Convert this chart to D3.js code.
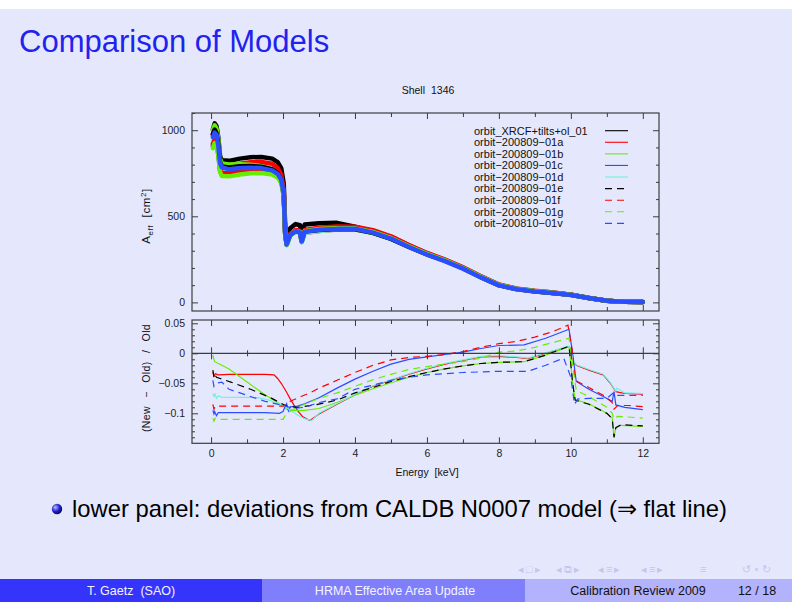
<!DOCTYPE html>
<html>
<head>
<meta charset="utf-8">
<script src="https://cdn.jsdelivr.net/npm/d3@7"></script>
<style>
body { margin: 0; background: #fff; }
svg text { font-family: "Liberation Sans", Arial, Helvetica, sans-serif; }
</style>
</head>
<body>
<svg id="slide" width="792" height="612"></svg>
<script>
// ---- data ----
var modelNames = ["orbit_XRCF+tilts+ol_01", "orbit\u2212200809\u221201a", "orbit\u2212200809\u221201b",
  "orbit\u2212200809\u221201c", "orbit\u2212200809\u221201d", "orbit\u2212200809\u221201e",
  "orbit\u2212200809\u221201f", "orbit\u2212200809\u221201g", "orbit\u2212200810\u221201v"];
var modelColors = ["#000000", "#ff0000", "#66ee00", "#2a4dff", "#6ff2da", "#000000", "#ff0000", "#66ee00", "#2a4dff"];
var modelDashed = [false, false, false, false, false, true, true, true, true];

// upper panel: effective area [cm^2] vs energy [keV]
var aeffEnergy = [0.05,0.1,0.15,0.2,0.25,0.3,0.5,0.8,1.1,1.4,1.7,1.85,1.95,2.02,2.06,2.1,2.2,2.35,2.47,2.52,2.6,3.0,3.5,4.0,4.5,5.0,5.5,6.0,6.5,7.0,7.5,8.0,8.5,9.0,9.5,10.0,10.5,11.0,11.5,12.0];
var aeffXRCF = [1005,1040,1025,960,850,825,822,835,843,845,835,815,780,690,440,380,430,455,448,395,452,460,462,440,410,372,325,281,244,200,148,100,77,64,55,44,25,9,3,2];
var aeff01a = [974,1000,988,926,821,796,793,806,814,815,805,781,741,652,414,345,398,414,403,350,403,414,423,424,404,371,324,281,244,201,149,101,77,65,55,45,26,10,3,2];
var aeff01b = [1002,1028,1011,944,834,807,801,803,800,791,771,747,712,629,400,334,390,412,405,354,409,418,424,423,403,369,322,279,242,199,147,100,77,64,55,44,25,9,3,2];
var aeff01c = [909,938,918,864,765,743,741,752,759,761,752,734,702,623,400,337,392,415,409,357,414,426,435,435,415,381,332,286,248,203,151,103,79,66,57,45,25,9,3,2];
var aeff01d = [938,965,948,892,789,765,762,774,781,782,769,748,714,630,401,335,389,409,401,349,403,415,424,425,405,371,324,281,244,201,149,101,77,65,55,45,26,10,3,2];
var aeff01e = [977,1004,984,921,814,790,783,791,792,788,773,751,716,631,402,336,392,414,408,356,412,421,426,425,404,369,322,279,242,199,147,100,77,64,55,44,25,9,3,2];
var aeff01f = [920,943,935,876,775,752,750,762,769,771,762,743,711,629,402,337,396,420,415,363,420,433,441,440,419,384,333,287,248,204,152,104,80,67,57,45,25,9,3,2];
var aeff01g = [896,926,910,856,757,734,732,743,750,752,743,725,694,614,394,332,389,414,409,357,414,426,431,430,409,374,326,282,244,200,149,102,78,66,56,44,25,9,3,2];
var aeff01v = [960,986,974,912,808,785,773,780,782,780,767,747,713,630,401,336,391,413,407,355,411,422,427,428,405,371,322,278,240,196,145,99,76,63,54,43,25,9,3,2];

// lower panel: (New - Old) / Old, pairs of [keV, ratio]
var dev01a = [[0.05,-0.031],[0.08,-0.038],[0.12,-0.034],[0.2,-0.036],[0.5,-0.035],[1.0,-0.035],[1.5,-0.035],[1.75,-0.036],[1.85,-0.042],[1.95,-0.05],[2.05,-0.06],[2.1,-0.065],[2.2,-0.076],[2.3,-0.086],[2.4,-0.095],[2.55,-0.106],[2.75,-0.112],[3.0,-0.101],[3.5,-0.085],[4.0,-0.069],[4.5,-0.055],[5.0,-0.045],[5.5,-0.035],[6.0,-0.026],[6.5,-0.018],[7.0,-0.012],[7.5,-0.006],[8.0,-0.005],[8.5,-0.007],[8.8,-0.009],[9.3,0.0],[9.95,0.011],[10.05,-0.012],[10.15,-0.02],[10.5,-0.028],[10.9,-0.036],[11.1,-0.05],[11.25,-0.064],[11.5,-0.067],[12.0,-0.068]];
var dev01b = [[0.05,-0.003],[0.08,-0.01],[0.1,-0.014],[0.3,-0.02],[0.5,-0.026],[1.0,-0.048],[1.5,-0.069],[2.0,-0.088],[2.1,-0.093],[2.3,-0.095],[2.6,-0.095],[3.0,-0.092],[3.5,-0.082],[4.0,-0.07],[4.5,-0.059],[5.0,-0.049],[5.5,-0.04],[6.0,-0.032],[6.5,-0.026],[7.0,-0.021],[7.5,-0.017],[8.0,-0.015],[8.7,-0.014],[9.3,-0.003],[9.95,0.011],[10.05,-0.05],[10.12,-0.077],[10.5,-0.084],[11.0,-0.1],[11.15,-0.108],[11.2,-0.14],[11.25,-0.124],[11.4,-0.12],[12.0,-0.122]];
var dev01c = [[0.05,-0.095],[0.08,-0.101],[0.1,-0.097],[0.15,-0.104],[0.2,-0.099],[0.5,-0.099],[1.0,-0.099],[1.5,-0.099],[1.9,-0.1],[2.0,-0.097],[2.05,-0.09],[2.1,-0.084],[2.15,-0.096],[2.2,-0.089],[2.4,-0.088],[2.6,-0.084],[3.0,-0.074],[3.5,-0.058],[4.0,-0.043],[4.5,-0.03],[5.0,-0.018],[5.5,-0.01],[6.0,-0.006],[6.5,-0.002],[7.0,0.002],[7.5,0.008],[8.0,0.013],[8.7,0.014],[9.3,0.025],[9.95,0.04],[10.05,0.0],[10.15,-0.047],[10.5,-0.06],[10.9,-0.072],[11.15,-0.08],[11.2,-0.064],[11.25,-0.086],[11.5,-0.09],[12.0,-0.094]];
var dev01d = [[0.05,-0.067],[0.08,-0.072],[0.11,-0.068],[0.15,-0.075],[0.2,-0.071],[0.3,-0.073],[1.0,-0.0735],[1.3,-0.074],[1.6,-0.078],[1.9,-0.084],[2.05,-0.088],[2.2,-0.095],[2.4,-0.103],[2.6,-0.109],[2.8,-0.112],[3.0,-0.1],[3.5,-0.084],[4.0,-0.068],[4.5,-0.054],[5.0,-0.044],[5.5,-0.034],[6.0,-0.025],[6.5,-0.017],[7.0,-0.011],[7.5,-0.005],[8.0,-0.004],[8.5,-0.006],[8.8,-0.008],[9.3,0.001],[9.95,0.012],[10.05,-0.011],[10.15,-0.019],[10.5,-0.027],[10.9,-0.035],[11.1,-0.049],[11.25,-0.063],[11.28,-0.058],[11.5,-0.066],[12.0,-0.067]];
var dev01e = [[0.05,-0.028],[0.08,-0.04],[0.1,-0.035],[0.15,-0.04],[0.3,-0.043],[0.55,-0.048],[1.1,-0.06],[1.65,-0.074],[2.1,-0.088],[2.4,-0.09],[2.9,-0.086],[3.5,-0.078],[4.0,-0.066],[4.5,-0.057],[5.0,-0.047],[5.5,-0.039],[6.0,-0.032],[6.5,-0.026],[7.0,-0.021],[7.5,-0.017],[8.0,-0.015],[8.7,-0.014],[9.3,-0.003],[9.95,0.012],[10.05,-0.05],[10.12,-0.078],[10.5,-0.085],[11.0,-0.1],[11.15,-0.109],[11.2,-0.14],[11.25,-0.124],[11.4,-0.119],[12.0,-0.121]];
var dev01f = [[0.05,-0.085],[0.08,-0.093],[0.12,-0.088],[0.5,-0.088],[1.0,-0.088],[1.5,-0.088],[2.0,-0.088],[2.1,-0.085],[2.2,-0.08],[2.5,-0.072],[2.75,-0.066],[3.0,-0.058],[3.5,-0.045],[4.0,-0.032],[4.5,-0.02],[5.0,-0.011],[5.5,-0.007],[6.0,-0.005],[6.5,-0.002],[7.0,0.003],[7.5,0.01],[8.0,0.016],[8.5,0.02],[9.0,0.027],[9.5,0.036],[9.92,0.047],[10.05,0.0],[10.12,-0.045],[10.5,-0.057],[10.9,-0.07],[11.15,-0.082],[11.2,-0.093],[11.3,-0.087],[11.6,-0.087],[12.0,-0.089]];
var dev01g = [[0.05,-0.108],[0.08,-0.113],[0.12,-0.108],[0.2,-0.11],[1.0,-0.11],[1.5,-0.11],[2.0,-0.11],[2.1,-0.1],[2.3,-0.093],[2.6,-0.085],[3.0,-0.075],[3.5,-0.066],[4.0,-0.055],[4.5,-0.044],[5.0,-0.035],[5.5,-0.027],[6.0,-0.022],[6.5,-0.018],[7.0,-0.014],[7.5,-0.008],[8.0,0.002],[8.5,0.004],[9.0,0.01],[9.5,0.018],[9.95,0.025],[10.05,-0.02],[10.15,-0.062],[10.5,-0.072],[11.0,-0.09],[11.15,-0.1],[11.2,-0.11],[11.3,-0.105],[12.0,-0.108]];
var dev01v = [[0.05,-0.045],[0.08,-0.055],[0.12,-0.05],[0.3,-0.048],[0.5,-0.06],[1.0,-0.07],[1.5,-0.08],[2.0,-0.087],[2.3,-0.092],[2.6,-0.09],[3.0,-0.082],[3.5,-0.076],[4.0,-0.06],[4.5,-0.053],[5.0,-0.045],[5.5,-0.04],[6.0,-0.036],[7.0,-0.032],[8.0,-0.03],[8.8,-0.03],[9.3,-0.02],[9.8,-0.008],[10.0,-0.04],[10.1,-0.085],[10.2,-0.076],[10.5,-0.075],[11.0,-0.075],[11.2,-0.065],[11.3,-0.07],[12.0,-0.07]];

var xTickValues = [0, 2, 4, 6, 8, 10, 12];
var yTopTickValues = [0, 500, 1000];
var yBotTickValues = [-0.1, -0.05, 0, 0.05];
var yBotTickLabels = ["\u22120.1", "\u22120.05", "0", "0.05"];

var aeffSeries = [aeffXRCF, aeff01a, aeff01b, aeff01c, aeff01d, aeff01e, aeff01f, aeff01g, aeff01v];
var devSeries = [null, dev01a, dev01b, dev01c, dev01d, dev01e, dev01f, dev01g, dev01v];

// ---- page ----
var svg = d3.select("#slide");
svg.append("rect").attr("x", 0).attr("y", 9).attr("width", 792).attr("height", 571).attr("fill", "#e5e8fd");

svg.append("text").attr("x", 19).attr("y", 52).attr("font-size", 31).attr("fill", "#2222ee")
  .text("Comparison of Models");

// ---- scales ----
var x = d3.scaleLinear().domain([-0.53, 12.45]).range([192, 659]);
var yTop = d3.scaleLinear().domain([-50, 1100]).range([311, 113]);
var yBot = d3.scaleLinear().domain([-0.15, 0.0555]).range([443.3, 320]);

var frameColor = "#3c3c3c";
var defs = svg.append("defs");
defs.append("clipPath").attr("id", "clipTop").append("rect")
  .attr("x", 192).attr("y", 113).attr("width", 467).attr("height", 198);
defs.append("clipPath").attr("id", "clipBot").append("rect")
  .attr("x", 192).attr("y", 320).attr("width", 467).attr("height", 123.3);

var plot = svg.append("g");

// upper panel curves (thick, as in the dense point plot)
var topLine = d3.line().x(function(d){ return x(d[0]); }).y(function(d){ return yTop(d[1]); });
var gTop = plot.append("g").attr("clip-path", "url(#clipTop)");
aeffSeries.forEach(function(vals, i){
  var pts = aeffEnergy.map(function(e, j){ return [e, vals[j]]; });
  gTop.append("path").attr("d", topLine(pts)).attr("fill", "none")
    .attr("stroke", modelColors[i]).attr("stroke-width", 4.5)
    .attr("stroke-linejoin", "round").attr("stroke-linecap", "round");
});

// lower panel curves
var botLine = d3.line().x(function(d){ return x(d[0]); }).y(function(d){ return yBot(d[1]); });
var gBot = plot.append("g").attr("clip-path", "url(#clipBot)");
devSeries.forEach(function(pts, i){
  if (!pts) return;
  gBot.append("path").attr("d", botLine(pts)).attr("fill", "none")
    .attr("stroke", modelColors[i]).attr("stroke-width", 1.2)
    .attr("stroke-dasharray", modelDashed[i] ? "7,5" : null);
});

// ---- axes ----
function styleAxis(g){
  g.select(".domain").remove();
  g.selectAll("line").attr("stroke", frameColor).attr("stroke-width", 1);
  g.selectAll("text").attr("fill", "#222").attr("font-size", 10.5)
    .attr("font-family", "'Liberation Sans', Arial, sans-serif");
}
function addAxis(axis, tx, ty){
  plot.append("g").attr("transform", "translate(" + tx + "," + ty + ")").call(axis).call(styleAxis);
}
var xMinor = [1, 3, 5, 7, 9, 11];
var noLabel = function(){ return ""; };

// upper panel ticks
addAxis(d3.axisBottom(x).tickValues(xTickValues).tickSize(-6).tickFormat(noLabel), 0, 311);
addAxis(d3.axisBottom(x).tickValues(xMinor).tickSize(-4).tickFormat(noLabel), 0, 311);
addAxis(d3.axisTop(x).tickValues(xTickValues).tickSize(-6).tickFormat(noLabel), 0, 113);
addAxis(d3.axisTop(x).tickValues(xMinor).tickSize(-4).tickFormat(noLabel), 0, 113);
addAxis(d3.axisLeft(yTop).tickValues(yTopTickValues).tickSize(-6).tickPadding(7).tickFormat(d3.format("d")), 192, 0);
addAxis(d3.axisLeft(yTop).tickValues([100,200,300,400,600,700,800,900,1100]).tickSize(-3).tickFormat(noLabel), 192, 0);
addAxis(d3.axisRight(yTop).tickValues(yTopTickValues).tickSize(-6).tickFormat(noLabel), 659, 0);
addAxis(d3.axisRight(yTop).tickValues([100,200,300,400,600,700,800,900]).tickSize(-3).tickFormat(noLabel), 659, 0);

// lower panel ticks
var yBotMinor = d3.range(-14, 6).map(function(k){ return k / 100; })
  .filter(function(v){ return Math.abs(v * 20 - Math.round(v * 20)) > 1e-6; });
addAxis(d3.axisBottom(x).tickValues(xTickValues).tickSize(-6).tickPadding(6)
  .tickFormat(d3.format("d")), 0, 443.3);
addAxis(d3.axisBottom(x).tickValues(xMinor).tickSize(-4).tickFormat(noLabel), 0, 443.3);
addAxis(d3.axisTop(x).tickValues(xTickValues).tickSize(-6).tickFormat(noLabel), 0, 320);
addAxis(d3.axisTop(x).tickValues(xMinor).tickSize(-4).tickFormat(noLabel), 0, 320);
addAxis(d3.axisLeft(yBot).tickValues(yBotTickValues).tickSize(-6).tickPadding(7)
  .tickFormat(function(d, i){ return yBotTickLabels[i]; }), 192, 0);
addAxis(d3.axisLeft(yBot).tickValues(yBotMinor).tickSize(-3).tickFormat(noLabel), 192, 0);
addAxis(d3.axisRight(yBot).tickValues(yBotTickValues).tickSize(-6).tickFormat(noLabel), 659, 0);
addAxis(d3.axisRight(yBot).tickValues(yBotMinor).tickSize(-3).tickFormat(noLabel), 659, 0);

// zero line with ticks on both sides
plot.append("line").attr("x1", 192).attr("x2", 659).attr("y1", yBot(0)).attr("y2", yBot(0))
  .attr("stroke", frameColor).attr("stroke-width", 1.2);
addAxis(d3.axisTop(x).tickValues(xTickValues).tickSize(6).tickFormat(noLabel), 0, yBot(0));
addAxis(d3.axisBottom(x).tickValues(xTickValues).tickSize(6).tickFormat(noLabel), 0, yBot(0));
addAxis(d3.axisTop(x).tickValues(xMinor).tickSize(3).tickFormat(noLabel), 0, yBot(0));
addAxis(d3.axisBottom(x).tickValues(xMinor).tickSize(3).tickFormat(noLabel), 0, yBot(0));

// frames
[[113, 311], [320, 443.3]].forEach(function(b){
  plot.append("rect").attr("x", 192).attr("y", b[0]).attr("width", 467).attr("height", b[1] - b[0])
    .attr("fill", "none").attr("stroke", frameColor).attr("stroke-width", 1.2);
});

// axis titles
plot.append("text").attr("x", 428).attr("y", 94).attr("text-anchor", "middle")
  .attr("font-size", 10.5).attr("word-spacing", 3).attr("fill", "#111").text("Shell 1346");
plot.append("text").attr("x", 427).attr("y", 476).attr("text-anchor", "middle")
  .attr("font-size", 10.5).attr("word-spacing", 3).attr("fill", "#111").text("Energy [keV]");

var yl1 = plot.append("text").attr("transform", "translate(150,216) rotate(-90)")
  .attr("text-anchor", "middle").attr("font-size", 11.5).attr("letter-spacing", 0.6).attr("fill", "#111");
yl1.append("tspan").text("A");
yl1.append("tspan").attr("font-size", 8).attr("dy", 3).text("eff");
yl1.append("tspan").attr("dy", -3).text("\u00a0 [cm");
yl1.append("tspan").attr("font-size", 8).attr("dy", -4.5).text("2");
yl1.append("tspan").attr("dy", 4.5).text("]");

plot.append("text").attr("transform", "translate(150,378) rotate(-90)")
  .attr("text-anchor", "middle").attr("font-size", 10.5).attr("word-spacing", 5).attr("letter-spacing", 0.4)
  .attr("fill", "#111").text("(New \u2212 Old) / Old");

// legend
var legend = plot.append("g");
modelNames.forEach(function(name, i){
  var ly = 130.7 + i * 11.58;
  legend.append("text").attr("x", 474).attr("y", ly).attr("dy", "0.35em")
    .attr("font-size", 11).attr("fill", "#111").text(name);
  legend.append("line").attr("x1", 605).attr("x2", 628).attr("y1", ly).attr("y2", ly)
    .attr("stroke", modelColors[i]).attr("stroke-width", 1.1)
    .attr("stroke-dasharray", modelDashed[i] ? "7,5" : null);
});

// ---- bullet line ----
var grad = defs.append("radialGradient").attr("id", "ball").attr("cx", "35%").attr("cy", "35%").attr("r", "65%");
grad.append("stop").attr("offset", "0%").attr("stop-color", "#b8b8ff");
grad.append("stop").attr("offset", "60%").attr("stop-color", "#2020d0");
grad.append("stop").attr("offset", "100%").attr("stop-color", "#0a0a60");
svg.append("circle").attr("cx", 57).attr("cy", 509).attr("r", 5.2).attr("fill", "url(#ball)");
svg.append("text").attr("x", 72).attr("y", 517).attr("font-size", 23.8).attr("fill", "#000")
  .text("lower panel: deviations from CALDB N0007 model (\u21d2 flat line)");

// navigation symbols
var navGroups = [
  {x: 518, t: "\u25c2\u25a1\u25b8"}, {x: 556, t: "\u25c2\u29c9\u25b8"}, {x: 598, t: "\u25c2\u2261\u25b8"},
  {x: 641, t: "\u25c2\u2261\u25b8"}, {x: 700, t: "\u2261"}, {x: 742, t: "\u21ba\u2218\u21bb"}
];
navGroups.forEach(function(n){
  svg.append("text").attr("x", n.x).attr("y", 573).attr("font-size", 11).attr("letter-spacing", 2)
    .attr("fill", "#c3c6ee").text(n.t);
});

// ---- footer ----
var footer = [
  {x0: 0, x1: 262, fill: "#3434fb", color: "#f4f4ff", text: "T. Gaetz  (SAO)", tx: 131},
  {x0: 262, x1: 525, fill: "#7f7ffc", color: "#f4f4ff", text: "HRMA Effective Area Update", tx: 395},
  {x0: 525, x1: 792, fill: "#b2b2fd", color: "#111", text: "Calibration Review 2009", tx: 638}
];
footer.forEach(function(f){
  svg.append("rect").attr("x", f.x0).attr("y", 579).attr("width", f.x1 - f.x0).attr("height", 23).attr("fill", f.fill);
  svg.append("text").attr("x", f.tx).attr("y", 595).attr("text-anchor", "middle")
    .attr("font-size", 12.5).attr("fill", f.color).attr("xml:space", "preserve").text(f.text);
});
svg.append("text").attr("x", 757).attr("y", 595).attr("text-anchor", "middle")
  .attr("font-size", 12.5).attr("fill", "#111").text("12 / 18");
</script>
</body>
</html>
